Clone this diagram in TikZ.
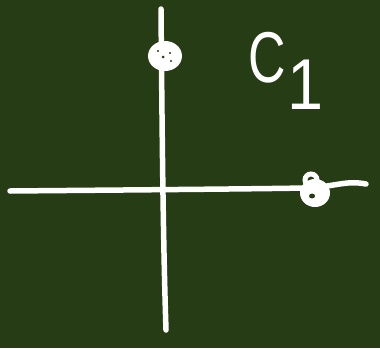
\documentclass[tikz,border=0pt]{standalone}
\usepackage{fontspec}
\setmainfont{Liberation Sans}
\definecolor{board}{RGB}{37,60,20}
\tikzset{
  chalk/.style={draw=white, line width=5.5pt, line cap=round, line join=round},
  blob/.style={fill=white, draw=none},
  speck/.style={fill=board, draw=none},
}
\begin{document}
\begin{tikzpicture}[x=1pt,y=-1pt]
  \fill[board] (0,0) rectangle (380,348);
  \useasboundingbox (0,0) rectangle (380,348);
  % axes
  \draw[chalk] (10,191) .. controls (120,190) and (250,189) .. (305,188)
    .. controls (335,187) and (345,180) .. (366,184);
  \draw[chalk] (161,9) .. controls (162,120) and (163,240) .. (166,330);
  % dot on vertical axis
  \fill[blob] (165,56) ellipse [x radius=17, y radius=15];
  \fill[speck] (158,51) circle [radius=1.2];
  \fill[speck] (170,53) circle [radius=1.2];
  \fill[speck] (163,57) circle [radius=1.5];
  \fill[speck] (171,61) circle [radius=1.2];
  % dot on horizontal axis
  \fill[blob] (315,193) ellipse [x radius=15, y radius=14];
  \draw[white, line width=5pt] (311,180) ellipse [x radius=6, y radius=6];
  \fill[speck] (312,196) ellipse [x radius=3, y radius=2.5];
  % label
  \node[white, font=\fontsize{72}{72}\selectfont, inner sep=0pt, anchor=base west] (lab) at (248,82) {\scalebox{0.72}[1]{C}\kern2pt\raisebox{-27pt}{\scalebox{0.9}[1]{1}}};
\end{tikzpicture}
\end{document}
